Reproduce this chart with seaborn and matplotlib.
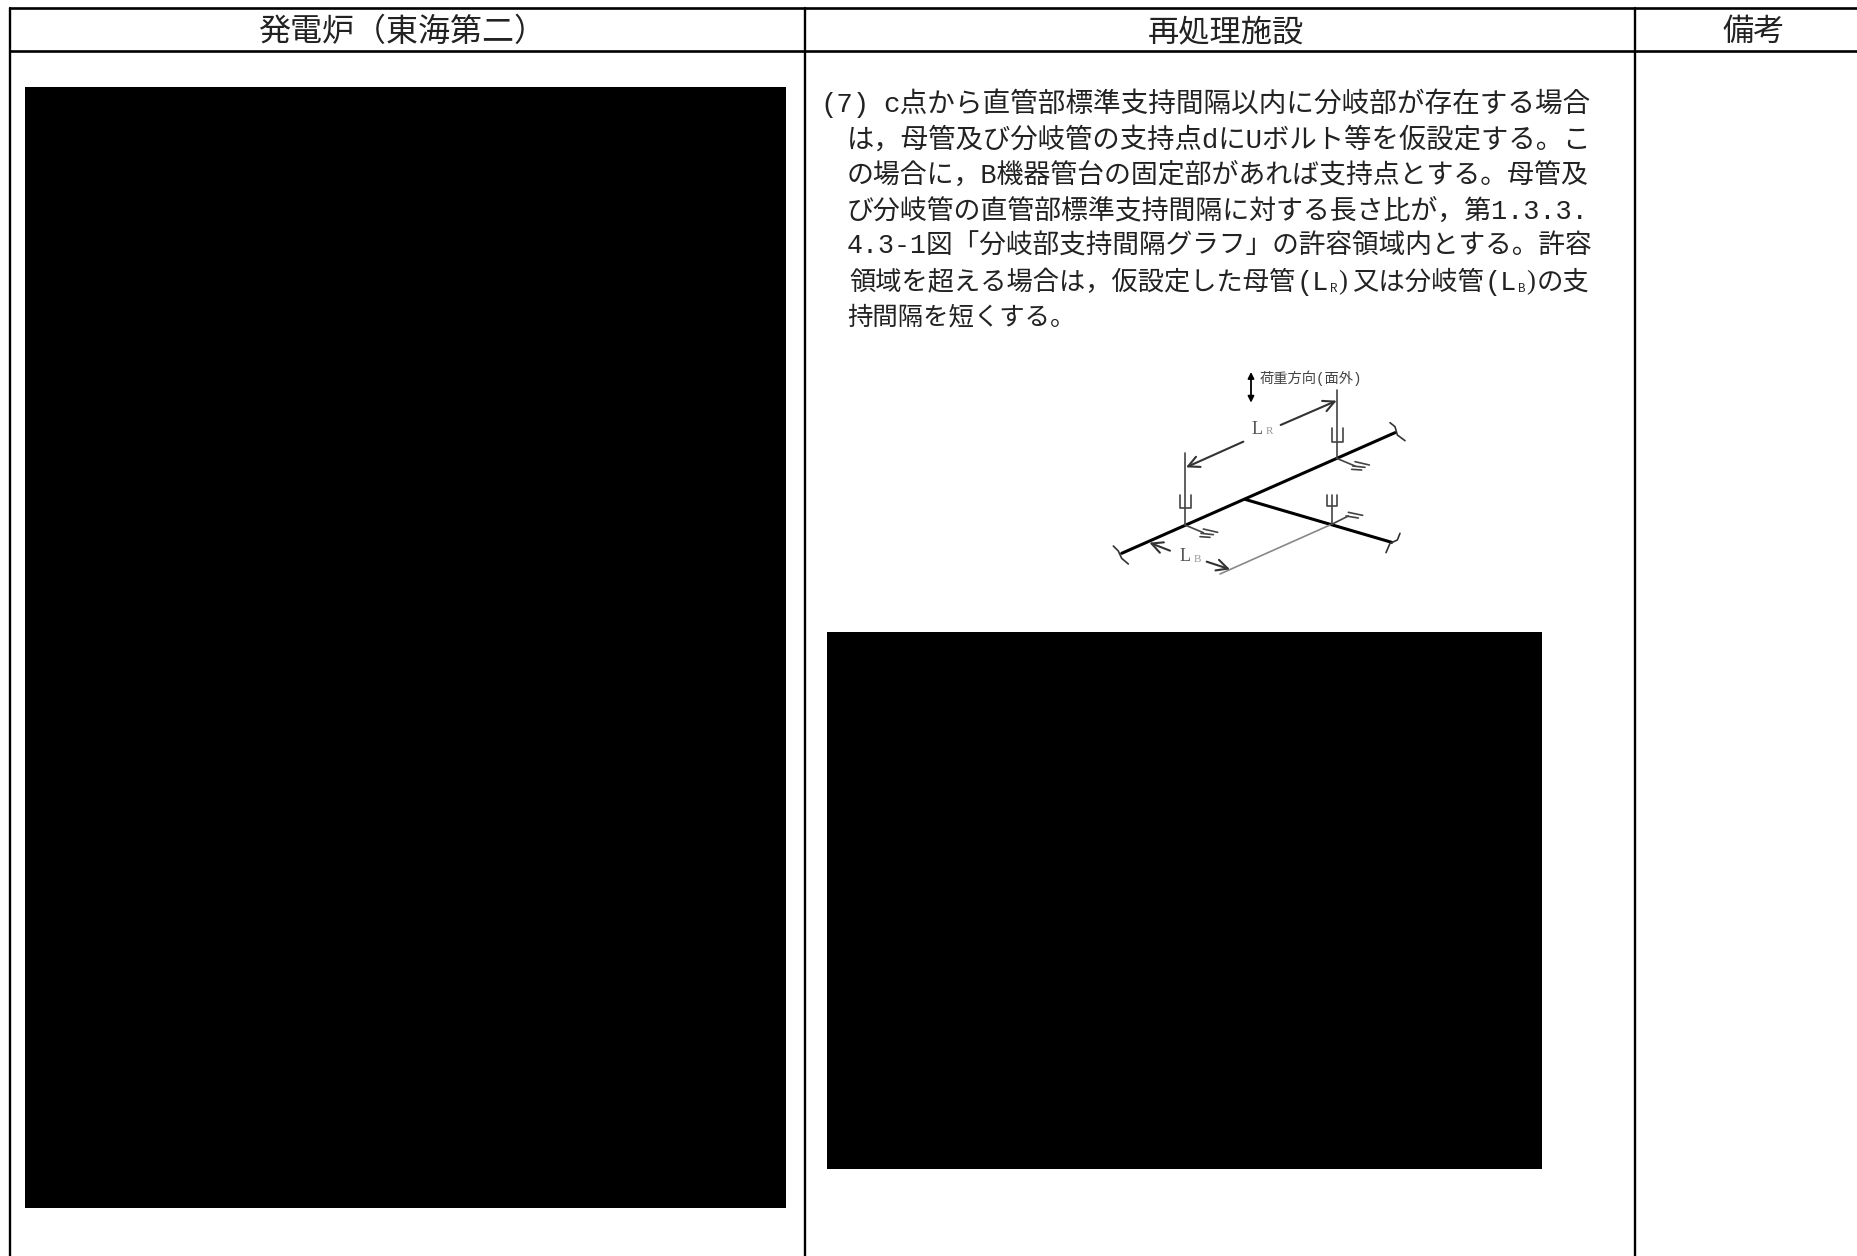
import matplotlib
matplotlib.use('Agg')
import matplotlib.pyplot as plt
from matplotlib.patches import Rectangle
import seaborn as sns

sns.set_theme(style='white')
plt.rcParams['font.family'] = ['Liberation Mono', 'Noto Sans CJK JP', 'DejaVu Sans']

W, H = 1858, 1256

# 表のヘッダー
headers = ['発電炉（東海第二）', '再処理施設', '備考']
header_x = [402, 1226, 1754]
header_size = [23, 22.5, 22.5]

# 本文
body_mark = '(7)'
body_first = 'c点から直管部標準支持間隔以内に分岐部が存在する場合'
body_lines = [
    'は，母管及び分岐管の支持点dにUボルト等を仮設定する。こ',
    'の場合に，B機器管台の固定部があれば支持点とする。母管及',
    'び分岐管の直管部標準支持間隔に対する長さ比が，第1.3.3.',
    '4.3-1図「分岐部支持間隔グラフ」の許容領域内とする。許容',
]
body_size = [19.7, 19.4, 19.4, 19.2]
# 下付きがある行は分けて置く
line6 = ['領域を超える場合は，仮設定した母管', '(L', '又は分岐管', '(L', 'の支']
line6_x = [849, 1297, 1352, 1485, 1537]
line6_size = [18.9, 19.4, 19.0, 19.4, 19.0]
line6_sub = ['R', 'B']
line6_sub_x = [1330, 1518]
line6_close = [')', ')']
line6_close_x = [1338, 1526]
body_last = '持間隔を短くする。'
load_label = '荷重方向(面外)'

# 黒塗り (x0, y0, x1, y1)
masked = [(25, 87, 786, 1208), (827, 632, 1542, 1169)]

# 配管図 (zoom座標: 左上 1060,380 の3倍)
pipes = [[(185, 520), (1005, 158)], [(555, 358), (995, 487)]]
pipe_ends = [
    [(160, 498), (175, 513), (185, 535), (205, 552)],
    [(990, 128), (1005, 140), (1012, 165), (1035, 182)],
    [(1020, 460), (1012, 480), (990, 490), (978, 518)],
]
thin = [
    [(830, 235), (830, 30)], [(375, 435), (375, 220)], [(815, 433), (815, 345)],
    # Uボルト
    [(815, 145), (815, 185), (848, 185), (848, 145)],
    [(360, 345), (360, 385), (392, 385), (392, 345)],
    [(800, 345), (800, 378), (830, 378), (830, 345)],
    # 横向きの支持
    [(830, 235), (885, 258)], [(885, 245), (928, 255)], [(878, 258), (915, 262)], [(875, 268), (905, 270)],
    [(375, 435), (430, 458)], [(430, 447), (473, 457)], [(423, 460), (460, 464)], [(420, 470), (450, 472)],
    [(815, 433), (865, 408)], [(865, 397), (908, 406)], [(858, 408), (895, 414)],
]
gray = [[(480, 582), (810, 435)]]
arrows = [((662, 135), (830, 62)), ((550, 185), (378, 262)),
          ((330, 512), (268, 488)), ((440, 545), (510, 568))]
load_arrow = ((573, -24), (573, 68))


def z(p):
    return 1060 + p[0] / 3, 380 + p[1] / 3


fig, ax = plt.subplots(figsize=(W / 100, H / 100), dpi=100)
ax.set_position([0, 0, 1, 1])
ax.set_xlim(0, W)
ax.set_ylim(H, 0)
ax.axis('off')

# 罫線
for y in [8, 51]:
    ax.plot([10, W], [y, y], color='black', lw=1.9)
for x in [10, 805, 1635]:
    ax.plot([x, x], [8, H], color='black', lw=1.7)

for x, t, s in zip(header_x, headers, header_size):
    ax.text(x, 33, t, ha='center', va='center', fontsize=s, color='#222222')

for x0, y0, x1, y1 in masked:
    ax.add_patch(Rectangle((x0, y0), x1 - x0, y1 - y0, color='black', lw=0))

text_color = '#222222'
ax.text(820, 105, body_mark, va='center', fontsize=19.7, color=text_color)
ax.text(883, 105, body_first, va='center', fontsize=19.9, color=text_color)
for i, (t, s) in enumerate(zip(body_lines, body_size)):
    ax.text(847, 140.5 + i * 35.5, t, va='center', fontsize=s, color=text_color)
y6 = 140.5 + 4 * 35.5
for t, x, s in zip(line6, line6_x, line6_size):
    ax.text(x, y6, t, va='center', fontsize=s, color=text_color)
for t, x in zip(line6_sub, line6_sub_x):
    ax.text(x, y6 + 7, t, va='center', fontsize=9, color=text_color)
for t, x in zip(line6_close, line6_close_x):
    ax.text(x, y6, t, va='center', fontsize=19.4, family='Liberation Serif', color=text_color)
ax.text(847, y6 + 35.5, body_last, va='center', fontsize=18.3, color=text_color)

for line in pipes:
    ax.plot(*zip(*map(z, line)), color='black', lw=2.2)
for line in pipe_ends:
    ax.plot(*zip(*map(z, line)), color='#333333', lw=1.2)
for line in thin:
    ax.plot(*zip(*map(z, line)), color='#444444', lw=1.2)
for line in gray:
    ax.plot(*zip(*map(z, line)), color='#888888', lw=1.2)
for a, b in arrows:
    ax.annotate('', xy=z(b), xytext=z(a),
                arrowprops=dict(arrowstyle='->', color='#333333', lw=1.5, mutation_scale=20,
                                shrinkA=0, shrinkB=0))
ax.annotate('', xy=z(load_arrow[1]), xytext=z(load_arrow[0]),
            arrowprops=dict(arrowstyle='<|-|>', color='black', lw=1.3, mutation_scale=9,
                            shrinkA=0, shrinkB=0))

ax.text(*z((600, -4)), load_label, fontsize=10.3, color='#444444', va='center')
ax.text(*z((575, 148)), 'L', fontsize=13, family='Liberation Serif', color='#555555', va='center')
ax.text(*z((618, 156)), 'R', fontsize=8, family='Liberation Serif', color='#999999', va='center')
ax.text(*z((358, 530)), 'L', fontsize=13, family='Liberation Serif', color='#555555', va='center')
ax.text(*z((402, 538)), 'B', fontsize=8, family='Liberation Serif', color='#999999', va='center')

fig.savefig('out.png', dpi=100)
